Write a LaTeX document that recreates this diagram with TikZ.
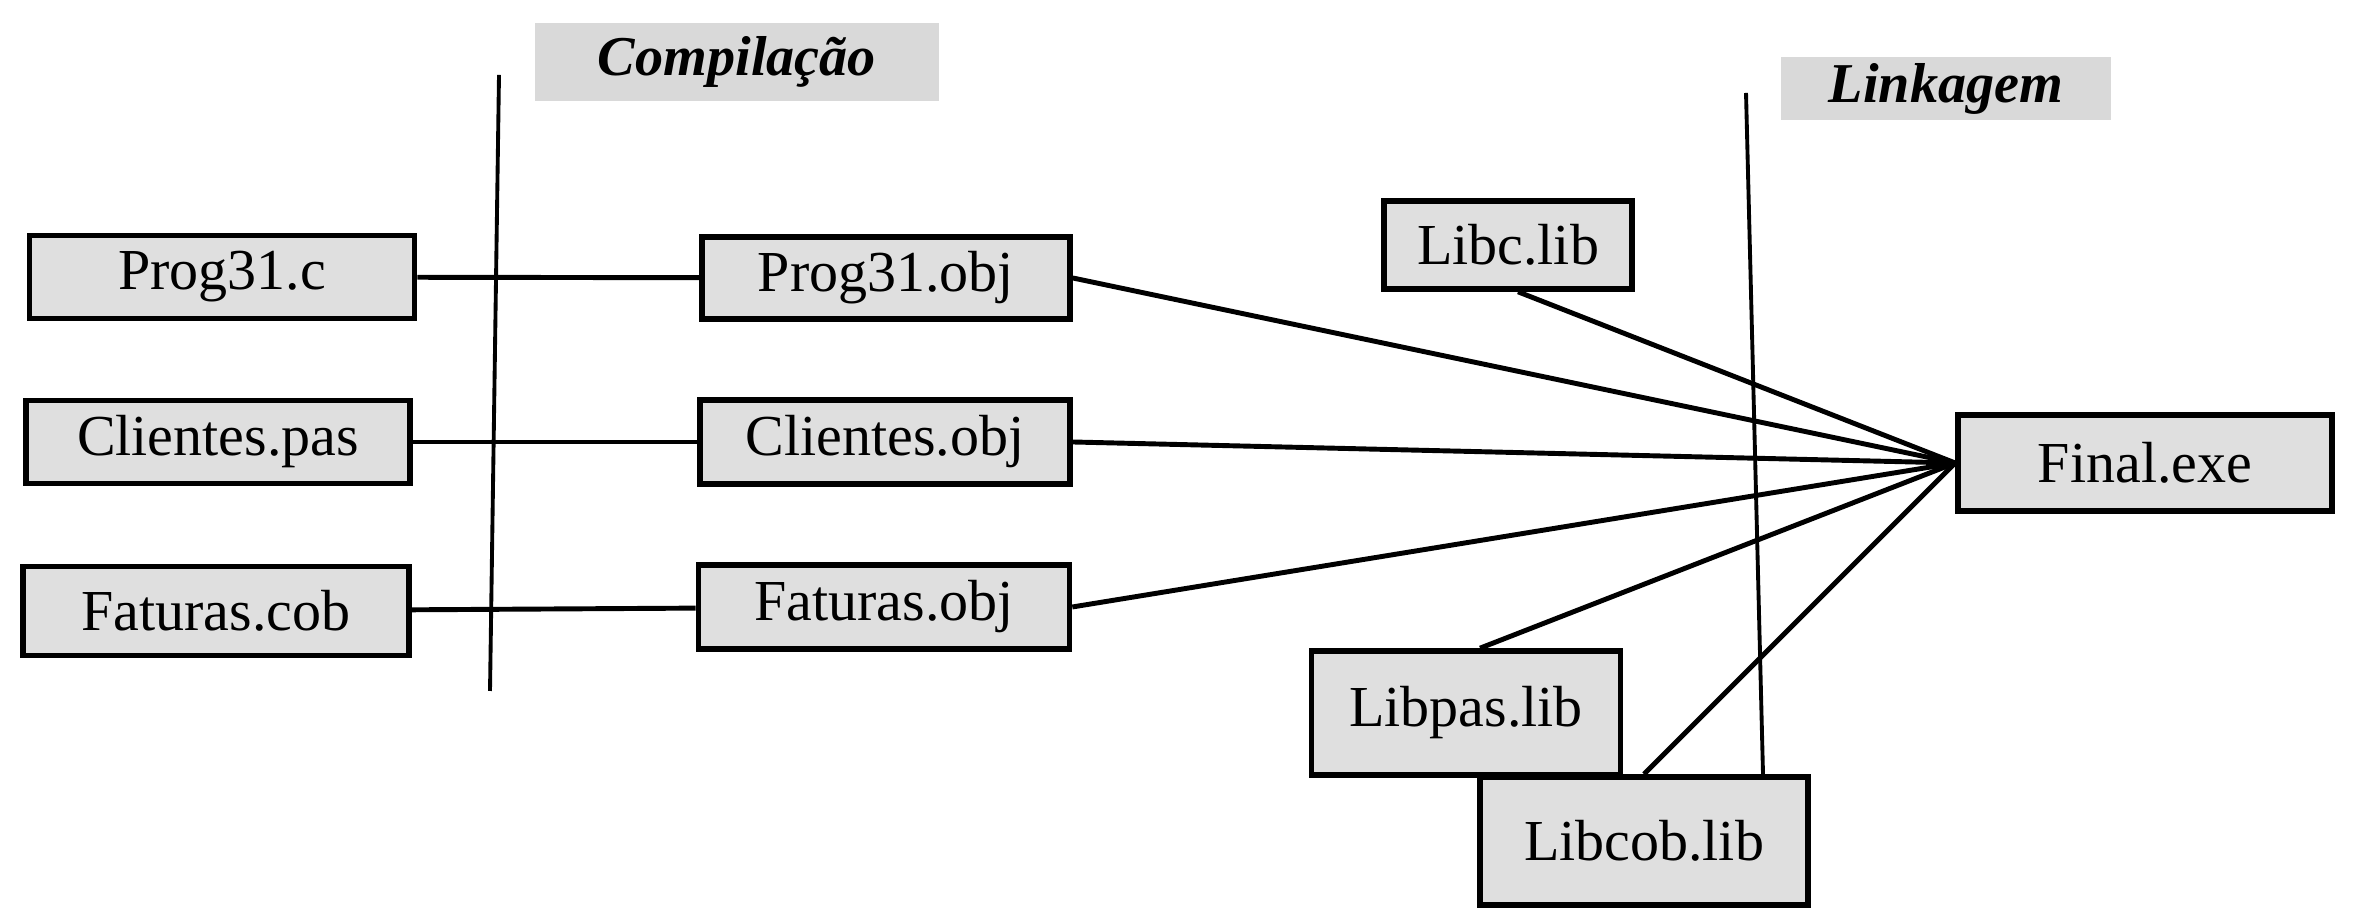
\documentclass[tikz,border=0pt]{standalone}
\usepackage{fontspec}
\setmainfont{Liberation Serif}

\begin{document}
\begin{tikzpicture}[arquivo/.style={draw,line width=1.6pt,fill=gray!25,inner sep=0pt,font=\fontsize{16.5}{19}\selectfont},
fase/.style={fill=gray!30,inner sep=0pt,font=\fontsize{16}{19}\selectfont\bfseries\itshape},
ligacao/.style={line width=1.4pt},
divisa/.style={line width=1.1pt}]
\useasboundingbox (0,0) rectangle (23.56,9.16);
\node[fase,minimum width=4.04cm,minimum height=0.78cm] (compilacao) at (7.37,8.54) {Compilação};
\node[fase,minimum width=3.30cm,minimum height=0.63cm] (linkagem) at (19.46,8.27) {Linkagem};
\node[arquivo,minimum width=3.85cm,minimum height=0.83cm] (prog) at (2.22,6.39) {Prog31.c};
\node[arquivo,minimum width=3.84cm,minimum height=0.83cm] (clientes) at (2.18,4.74) {Clientes.pas};
\node[arquivo,minimum width=3.86cm,minimum height=0.89cm] (faturas) at (2.16,3.05) {Faturas.cob};
\node[arquivo,minimum width=3.68cm,minimum height=0.82cm] (progobj) at (8.86,6.38) {Prog31.obj};
\node[arquivo,minimum width=3.70cm,minimum height=0.84cm] (clientesobj) at (8.85,4.74) {Clientes.obj};
\node[arquivo,minimum width=3.71cm,minimum height=0.84cm] (faturasobj) at (8.84,3.09) {Faturas.obj};
\node[arquivo,minimum width=2.48cm,minimum height=0.88cm] (libc) at (15.08,6.71) {Libc.lib};
\node[arquivo,minimum width=3.74cm,minimum height=0.96cm] (final) at (21.45,4.53) {Final.exe};
\node[arquivo,minimum width=3.09cm,minimum height=1.24cm] (libpas) at (14.66,2.03) {Libpas.lib};
\node[arquivo,minimum width=3.28cm,minimum height=1.28cm] (libcob) at (16.44,0.75) {Libcob.lib};
\coordinate (topo1) at (4.99,8.41);
\coordinate (base1) at (4.90,2.25);
\coordinate (topo2) at (17.46,8.23);
\draw[divisa] (topo1) -- (base1);
\draw[divisa] (topo2) -- (libcob.north -| 17.63,0);
\draw[ligacao] (prog) -- (progobj);
\draw[ligacao] (clientes) -- (clientesobj);
\draw[ligacao] (faturas) -- (faturasobj);
\draw[ligacao] (progobj.east) -- (final.west);
\draw[ligacao] (clientesobj.east) -- (final.west);
\draw[ligacao] (faturasobj.east) -- (final.west);
\draw[ligacao] ([xshift=0.1cm]libc.south) -- (final.west);
\draw[ligacao] ([xshift=0.14cm]libpas.north) -- (final.west);
\draw[ligacao] (libcob.north) -- (final.west);
\end{tikzpicture}
\end{document}
